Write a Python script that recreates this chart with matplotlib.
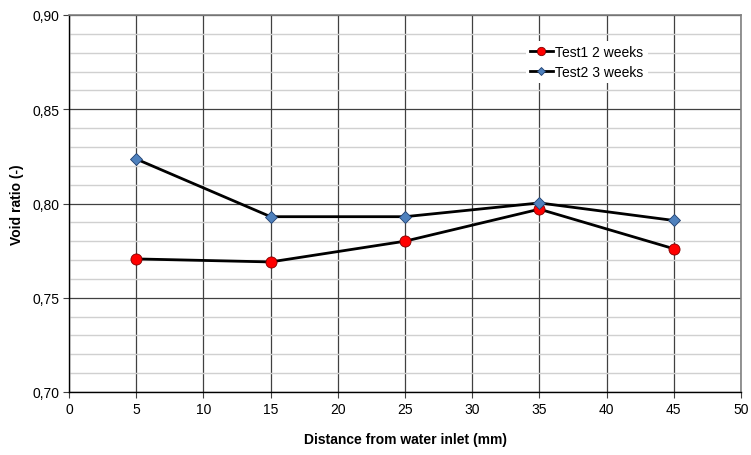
import matplotlib
matplotlib.use("Agg")
import matplotlib.pyplot as plt
from matplotlib.ticker import MultipleLocator, FuncFormatter

plt.rcParams['font.family'] = ['Liberation Sans', 'DejaVu Sans']

distance = [5, 15, 25, 35, 45]
test1 = [0.7706, 0.769, 0.780, 0.797, 0.776]
test2 = [0.8236, 0.793, 0.793, 0.8003, 0.791]

W, H = 751, 456
fig = plt.figure(figsize=(W / 100, H / 100), dpi=100)
ax = fig.add_axes([69 / W, 1 - 393 / H, (741 - 69) / W, (393 - 16) / H])

ax.set_xlim(0, 50)
ax.set_ylim(0.70, 0.90)
ax.xaxis.set_major_locator(MultipleLocator(5))
ax.yaxis.set_major_locator(MultipleLocator(0.05))
ax.yaxis.set_minor_locator(MultipleLocator(0.01))
ax.yaxis.set_major_formatter(FuncFormatter(lambda v, p: f"{v:.2f}".replace('.', ',')))

# light minor lines, dark major lines
ax.grid(which='minor', axis='y', color='#d0d0d0', lw=1.0)
ax.grid(which='major', axis='y', color='#404040', lw=0.9)
ax.grid(which='major', axis='x', color='#404040', lw=0.9)
ax.set_axisbelow(True)

for s in ['top', 'right']:
    ax.spines[s].set_color('#808080')
    ax.spines[s].set_linewidth(1.2)
for s in ['left', 'bottom']:
    ax.spines[s].set_color('black')
    ax.spines[s].set_linewidth(1.0)

ax.tick_params(which='major', direction='out', length=4, color='#404040', labelsize=10, pad=3)
ax.tick_params(which='minor', length=0)

ax.plot(distance, test1, color='black', lw=2, marker='o', ms=8,
        mfc='#ff0000', mec='#800000', mew=0.6, label='Test1 2 weeks', zorder=3)
ax.plot(distance, test2, color='black', lw=2, marker='D', ms=6,
        mfc='#4f81bd', mec='#1f3f6f', mew=0.6, label='Test2 3 weeks', zorder=3)

ax.set_xlabel('Distance from water inlet (mm)', fontsize=10, fontweight='bold', labelpad=12)
ax.set_ylabel('Void ratio (-)', fontsize=10, fontweight='bold', labelpad=6)

leg = ax.legend(loc='upper left', bbox_to_anchor=(0.67, 0.95), frameon=True, fancybox=False,
                edgecolor='none', facecolor='white', framealpha=1, fontsize=10,
                handlelength=1.6, handletextpad=0.2, borderpad=0.3, labelspacing=0.4,
                markerscale=0.75)

fig.savefig('out.png', dpi=100)
